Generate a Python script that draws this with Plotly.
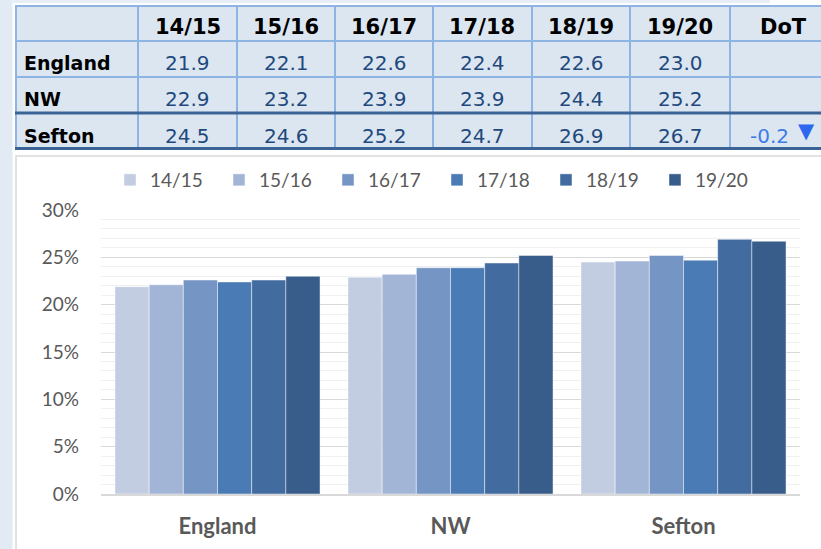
import plotly.graph_objects as go

# ---- data ----
areas = ["England", "NW", "Sefton"]
years = ["14/15", "15/16", "16/17", "17/18", "18/19", "19/20"]
england = [21.9, 22.1, 22.6, 22.4, 22.6, 23.0]
nw = [22.9, 23.2, 23.9, 23.9, 24.4, 25.2]
sefton = [24.5, 24.6, 25.2, 24.7, 26.9, 26.7]
dot_label = "DoT"
sefton_dot = "-0.2"
y_ticks = [0, 5, 10, 15, 20, 25, 30]

bar_colors = ["#c3cde2", "#a3b5d6", "#7595c5", "#4a7bb5", "#426ca0", "#385d8a"]

W, H = 821, 549


def px(x):
    return x / W


def py(y):
    return 1 - y / H


series = [england, nw, sefton]

fig = go.Figure()
for i, yr in enumerate(years):
    fig.add_trace(go.Bar(
        name=yr,
        x=areas,
        y=[s[i] for s in series],
        marker=dict(color=bar_colors[i], line=dict(color="rgba(255,255,255,0.45)", width=1)),
    ))

shapes = []
annotations = []

# left page strip and top strip
shapes.append(dict(type="rect", xref="paper", yref="paper", x0=px(0), x1=px(12.5), y0=py(549), y1=py(0),
                   fillcolor="#e2eaf4", line=dict(width=0), layer="below"))
shapes.append(dict(type="rect", xref="paper", yref="paper", x0=px(13), x1=px(770), y0=py(3), y1=py(0),
                   fillcolor="#e8eef6", line=dict(width=0), layer="below"))

# table background
tbl_x0, tbl_x1, tbl_y0, tbl_y1 = 15, 825, 6, 149
shapes.append(dict(type="rect", xref="paper", yref="paper", x0=px(tbl_x0), x1=px(tbl_x1), y0=py(tbl_y1), y1=py(tbl_y0),
                   fillcolor="#dce6f1", line=dict(width=0), layer="below"))
col_edges = [16, 138, 237, 335, 433, 532, 630, 730]
for cx in col_edges:
    shapes.append(dict(type="line", xref="paper", yref="paper", x0=px(cx), x1=px(cx), y0=py(tbl_y1), y1=py(tbl_y0),
                       line=dict(color="#8eb4e3", width=2)))
for ry in [6, 41, 77]:
    shapes.append(dict(type="line", xref="paper", yref="paper", x0=px(tbl_x0), x1=px(tbl_x1), y0=py(ry), y1=py(ry),
                       line=dict(color="#8eb4e3", width=2)))
for ry in [113, 148.5]:
    shapes.append(dict(type="line", xref="paper", yref="paper", x0=px(tbl_x0), x1=px(tbl_x1), y0=py(ry), y1=py(ry),
                       line=dict(color="#3a6496", width=3)))

# chart box
shapes.append(dict(type="rect", xref="paper", yref="paper", x0=px(16), x1=px(830), y0=py(560), y1=py(156),
                   line=dict(color="#d9d9d9", width=1.5), fillcolor="rgba(0,0,0,0)", layer="below"))

# table text
col_centers = [187.5, 286, 384, 482.5, 581, 680]
row_centers = [63, 99, 136]
hdr_font = dict(family="DejaVu Sans", size=21, color="#000000", weight="bold")
val_font = dict(family="DejaVu Sans", size=20, color="#1f497d")
lab_font = dict(family="DejaVu Sans", size=19, color="#000000", weight="bold")

for cx, yr in zip(col_centers, years):
    annotations.append(dict(text=yr, x=px(cx), y=py(27), xref="paper", yref="paper",
                            xanchor="center", yanchor="middle", showarrow=False, font=hdr_font))
annotations.append(dict(text=dot_label, x=px(783), y=py(27), xref="paper", yref="paper",
                        xanchor="center", yanchor="middle", showarrow=False, font=hdr_font))
for ry, name, vals in zip(row_centers, areas, series):
    annotations.append(dict(text=name, x=px(22), y=py(ry), xref="paper", yref="paper",
                            xanchor="left", yanchor="middle", showarrow=False, font=lab_font))
    for cx, v in zip(col_centers, vals):
        annotations.append(dict(text=f"{v:.1f}", x=px(cx), y=py(ry), xref="paper", yref="paper",
                                xanchor="center", yanchor="middle", showarrow=False, font=val_font))
annotations.append(dict(text=sefton_dot, x=px(769), y=py(136), xref="paper", yref="paper",
                        xanchor="center", yanchor="middle", showarrow=False,
                        font=dict(family="DejaVu Sans", size=20, color="#3d7be8")))
annotations.append(dict(text="\u25BC", x=px(806), y=py(131), xref="paper", yref="paper",
                        xanchor="center", yanchor="middle", showarrow=False,
                        font=dict(family="DejaVu Sans", size=21, color="#2f66f0")))

fig.update_layout(
    width=W, height=H,
    margin=dict(l=0, r=0, t=0, b=0, autoexpand=False),
    paper_bgcolor="white",
    plot_bgcolor="rgba(0,0,0,0)",
    barmode="group",
    bargap=0.12,
    bargroupgap=0,
    shapes=shapes,
    annotations=annotations,
    legend=dict(
        orientation="h",
        x=px(110), xanchor="left",
        y=py(180), yanchor="middle",
        font=dict(family="Lato", size=19, color="#595959"),
        entrywidth=64, entrywidthmode="pixels",
        bgcolor="rgba(0,0,0,0)",
        traceorder="normal",
    ),
    xaxis=dict(
        domain=[px(101), px(800)],
        showline=True, linecolor="#d9d9d9", linewidth=1.5,
        tickfont=dict(family="Lato", size=22, color="#595959", weight="bold"),
        ticklabelstandoff=12,
        showgrid=False,
    ),
    yaxis=dict(
        domain=[py(494), py(210)],
        range=[0, 30],
        tickvals=y_ticks,
        ticktext=[f"{t}%" for t in y_ticks],
        tickfont=dict(family="Lato", size=19, color="#595959"),
        ticklabelstandoff=21,
        showgrid=True, gridcolor="#d9d9d9", gridwidth=1,
        zeroline=False,
        minor=dict(dtick=1, showgrid=True, gridcolor="#f0f0f0", gridwidth=1),
    ),
    showlegend=True,
)

fig.write_html("out.html",
               config={"displayModeBar": False},
               post_script="document.body.style.margin='0px';document.body.style.padding='0px';")
